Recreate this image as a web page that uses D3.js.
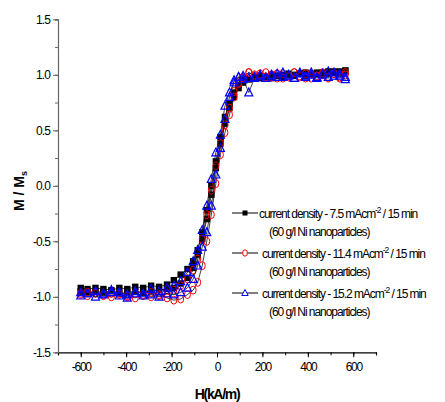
<!DOCTYPE html>
<html><head><meta charset="utf-8">
<script src="https://cdn.jsdelivr.net/npm/d3@7"></script>
<style>
body{margin:0;background:#fff;}
svg{display:block;}
text{font-family:"Liberation Sans",Arial,sans-serif;}
</style></head>
<body>
<svg id="chart" width="445" height="402"></svg>
<script>
// Field values (kA/m) for the descending and ascending branches of each loop
const hDesc = [565,540,515,490,465,440,415,390,365,340,315,290,265,240,215,190,165,140,115,95,75,55,35,15,-5,-25,-45,-65,-85,-105,-130,-160,-190,-220,-255,-290,-325,-360,-395,-430,-465,-500,-535,-570,-600];
const hAsc  = [-600,-570,-535,-500,-465,-430,-395,-360,-325,-290,-255,-220,-190,-160,-130,-105,-85,-65,-45,-25,-5,15,35,55,75,95,115,140,165,190,215,240,265,290,315,340,365,390,415,440,465,490,515,540,565];

// M/Ms values — 7.5 mA/cm2
const s1Desc = [1.03,1.02,1.03,1.01,1.00,1.02,1.00,0.99,1.01,0.99,1.00,0.98,0.99,0.97,0.98,0.97,0.98,0.96,0.95,0.91,0.84,0.74,0.62,0.44,0.22,0.00,-0.22,-0.42,-0.58,-0.68,-0.75,-0.80,-0.85,-0.89,-0.91,-0.90,-0.92,-0.91,-0.93,-0.92,-0.94,-0.93,-0.92,-0.93,-0.92];
const s1Asc  = [-0.95,-0.96,-0.95,-0.96,-0.95,-0.97,-0.96,-0.95,-0.96,-0.95,-0.94,-0.93,-0.92,-0.88,-0.83,-0.74,-0.62,-0.48,-0.30,-0.08,0.16,0.38,0.56,0.70,0.80,0.88,0.93,0.96,0.98,0.99,0.98,1.00,0.99,1.00,1.01,1.00,1.01,1.02,1.00,1.01,1.02,1.03,1.02,1.03,1.04];
// 11.4 mA/cm2
const s2Desc = [1.00,0.97,1.01,0.98,1.02,0.99,0.97,1.01,0.98,1.02,0.99,0.97,1.01,0.98,1.02,0.99,1.00,1.02,0.98,0.93,0.85,0.70,0.55,0.38,0.18,-0.04,-0.26,-0.48,-0.66,-0.76,-0.84,-0.90,-0.94,-0.97,-0.98,-0.96,-0.99,-0.97,-1.00,-0.98,-0.97,-0.99,-0.97,-0.96,-0.98];
const s2Asc  = [-0.97,-0.99,-0.96,-0.98,-1.00,-0.97,-0.99,-1.01,-0.98,-1.00,-0.99,-1.01,-1.03,-1.02,-0.98,-0.94,-0.87,-0.72,-0.50,-0.26,0.02,0.28,0.48,0.64,0.80,0.92,0.97,1.02,0.99,1.01,0.98,1.00,0.97,1.01,0.98,1.02,0.99,0.97,1.01,0.98,1.00,0.97,1.01,0.98,1.02];
// 15.2 mA/cm2
const s3Desc = [0.96,0.99,1.02,0.98,1.01,0.97,1.00,0.98,1.02,0.97,0.99,1.02,0.98,1.00,0.97,0.99,0.98,0.97,0.99,0.98,0.93,0.84,0.72,0.46,0.30,0.06,-0.18,-0.40,-0.58,-0.68,-0.78,-0.86,-0.90,-0.92,-0.95,-0.93,-0.97,-0.95,-0.98,-0.96,-0.94,-0.97,-0.95,-0.97,-0.96];
const s3Asc  = [-0.99,-0.97,-1.00,-0.98,-0.96,-0.99,-1.01,-0.97,-0.99,-0.98,-1.00,-0.97,-0.98,-0.96,-0.92,-0.84,-0.72,-0.55,-0.42,-0.18,0.10,0.34,0.60,0.80,0.95,0.98,0.96,0.84,0.97,1.00,0.97,0.99,1.01,0.98,1.00,0.97,1.01,0.99,1.02,0.98,1.00,1.03,0.99,1.01,0.98];

const seriesNames = [
  "current density - 7.5 mAcm",
  "current density - 11.4 mAcm",
  "current density - 15.2 mAcm"
];
const subLabel = "(60 g/l Ni nanoparticles)";
const xMajorTicks = [-600,-400,-200,0,200,400,600];
const yMajorTicks = [-1.5,-1.0,-0.5,0.0,0.5,1.0,1.5];

const svg = d3.select("#chart");
const x = d3.scaleLinear().domain([-700,700]).range([58,376]);
const y = d3.scaleLinear().domain([-1.5,1.5]).range([352.3,19.3]);
const hy = s => s.replace("\u2212","-");

// axes
const xMinor = d3.range(-700,701,100);
const yMinor = d3.range(-1.5,1.51,0.25);
const gx = svg.append("g").attr("transform","translate(0,352.3)");
gx.call(d3.axisBottom(x).tickValues(xMinor).tickSize(3).tickFormat(""));
gx.selectAll(".tick line").attr("stroke","#000");
gx.select(".domain").attr("stroke","#000").attr("stroke-width",1.2);
const gx2 = svg.append("g").attr("transform","translate(0,352.3)");
gx2.call(d3.axisBottom(x).tickValues(xMajorTicks).tickSize(5).tickPadding(5).tickFormat(d=>hy(d3.format("d")(d))));
gx2.select(".domain").remove();
gx2.selectAll("text").attr("font-size",12).attr("letter-spacing","-1.3px").attr("fill","#000");

const gy = svg.append("g").attr("transform","translate(58,0)");
gy.call(d3.axisLeft(y).tickValues(yMinor).tickSize(3).tickFormat(""));
gy.selectAll(".tick line").attr("stroke","#666");
gy.select(".domain").attr("stroke","#666").attr("stroke-width",1.2);
const gy2 = svg.append("g").attr("transform","translate(58,0)");
gy2.call(d3.axisLeft(y).tickValues(yMajorTicks).tickSize(5).tickPadding(3).tickFormat(d=>hy(d3.format(".1f")(d))));
gy2.select(".domain").remove();
gy2.selectAll(".tick line").attr("stroke","#666");
gy2.selectAll("text").attr("font-size",12).attr("letter-spacing","-0.9px").attr("fill","#000");

// axis titles
svg.append("text").attr("x",217).attr("y",399).attr("text-anchor","middle")
  .attr("font-size",14).attr("font-weight","bold").attr("letter-spacing","-1.3px").text("H(kA/m)");
const yt = svg.append("text").attr("transform","translate(24,191) rotate(-90)").attr("text-anchor","middle")
  .attr("font-size",14).attr("font-weight","bold");
yt.append("tspan").text("M / M");
yt.append("tspan").attr("font-size",9).attr("dy",3).text("s");

// data
const series = [
  {desc:s1Desc, asc:s1Asc, color:"#000", shape:"square"},
  {desc:s2Desc, asc:s2Asc, color:"#ff0000", shape:"circle"},
  {desc:s3Desc, asc:s3Asc, color:"#0000ff", shape:"triangle"}
];
const line = d3.line().x(d=>x(d[0])).y(d=>y(d[1]));
function drawMarker(g, shape, color, cx, cy){
  if(shape==="square"){
    g.append("rect").attr("x",cx-3.2).attr("y",cy-3.2).attr("width",6.4).attr("height",6.4).attr("fill","#000");
  } else if(shape==="circle"){
    g.append("ellipse").attr("cx",cx).attr("cy",cy).attr("rx",3).attr("ry",4)
      .attr("fill","none").attr("stroke",color).attr("stroke-width",1);
  } else {
    g.append("path").attr("d",`M${cx},${cy-4.5}L${cx+4},${cy+3.3}L${cx-4},${cy+3.3}Z`)
      .attr("fill","none").attr("stroke",color).attr("stroke-width",1.2);
  }
}
series.forEach(s=>{
  const pts = hDesc.map((h,i)=>[h,s.desc[i]]).concat(hAsc.map((h,i)=>[h,s.asc[i]]));
  svg.append("path").datum(pts).attr("d",line).attr("fill","none").attr("stroke","#111").attr("stroke-width",0.8);
  const g = svg.append("g");
  pts.forEach(p=>drawMarker(g,s.shape,s.color,x(p[0]),y(p[1])));
});

// legend
const legY = [213,253,293];
series.forEach((s,i)=>{
  const g = svg.append("g");
  const cy = legY[i];
  g.append("line").attr("x1",232).attr("x2",258).attr("y1",cy).attr("y2",cy).attr("stroke","#000").attr("stroke-width",1);
  if(s.shape==="square") g.append("rect").attr("x",245-2.5).attr("y",cy-2.5).attr("width",5).attr("height",5).attr("fill","#000");
  else if(s.shape==="circle") g.append("ellipse").attr("cx",245).attr("cy",cy).attr("rx",2.4).attr("ry",3.2).attr("fill","#fff").attr("stroke",s.color);
  else g.append("path").attr("d",`M245,${cy-3.5}L248.2,${cy+2.5}L241.8,${cy+2.5}Z`).attr("fill","#fff").attr("stroke",s.color);
  const t = g.append("text").attr("x",i===0?259:262).attr("y",cy+4.5).attr("font-size",12).attr("letter-spacing","-1.05px");
  t.append("tspan").text(seriesNames[i]);
  t.append("tspan").attr("font-size",8.5).attr("dy",-5).text("-2");
  t.append("tspan").attr("dy",5).text(" / 15 min");
  g.append("text").attr("x",269).attr("y",cy+22.5).attr("font-size",12).attr("letter-spacing","-1.05px").text(subLabel);
});
</script>
</body></html>
